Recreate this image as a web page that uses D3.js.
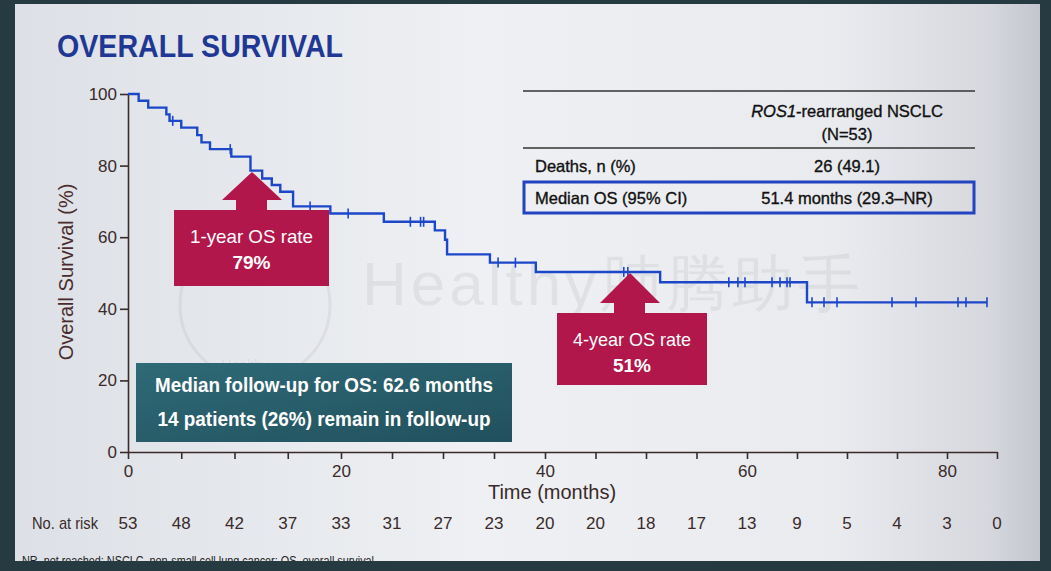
<!DOCTYPE html>
<html><head><meta charset="utf-8">
<script src="https://cdn.jsdelivr.net/npm/d3@7"></script>
<style>html,body{margin:0;padding:0;background:#263a41;} svg{display:block}</style>
</head><body><svg id="c" width="1051" height="571"></svg>
<script>
// ---- data ----
const eventTimes  = [1.0, 1.9, 3.6, 3.9, 5.0, 6.5, 6.9, 7.7, 9.7, 11.5, 12.6, 13.5, 14.3, 15.5, 19.0, 24.2, 29.2, 30.2, 30.4, 34.6, 39.1, 51.4, 66.0];
const survivalPct = [98.1, 96.2, 94.3, 92.5, 90.6, 88.5, 86.5, 84.6, 82.5, 78.6, 76.4, 74.6, 72.7, 68.6, 66.6, 64.3, 61.9, 59.3, 55.2, 52.9, 50.3, 47.4, 41.8];
const censorTimes = [4.2, 9.6, 17.1, 20.7, 26.8, 27.8, 28.1, 35.4, 37.1, 47.8, 48.2, 58.2, 59.1, 59.8, 62.5, 63.3, 64.0, 64.3, 66.5, 67.7, 69.0, 74.5, 76.9, 81.1, 81.9, 84.0];
const lastFollowUp = 84.0;
const atRiskTimes = [0,5,10,15,20,25,30,35,40,45,50,55,60,65,70,75,80,85];
const atRisk      = [53,48,42,37,33,31,27,23,20,20,18,17,13,9,5,4,3,0];
const xLabelTicks = [0,20,40,60,80];
const yTickValues = [0,20,40,60,80,100];
const tableRows = [["Deaths, n (%)", "26 (49.1)"], ["Median OS (95% CI)", "51.4 months (29.3\u2013NR)"]];

const FONT = "'Liberation Sans', Arial, sans-serif";
const NARROW = "'Liberation Sans Narrow', 'Arial Narrow', 'Liberation Sans', Arial, sans-serif";
const ink = "#3a2a2a";

const svg = d3.select("#c");
const defs = svg.append("defs");
const g1 = defs.append("linearGradient").attr("id","bg").attr("x1",0).attr("x2",1).attr("y1",0).attr("y2",0);
[[0,"#dde0e6"],[0.45,"#eef0f3"],[0.8,"#e9ebef"],[0.95,"#d6d8de"],[1,"#c3c6ce"]].forEach(([o,c])=>g1.append("stop").attr("offset",o).attr("stop-color",c));
const g2 = defs.append("linearGradient").attr("id","teal").attr("x1",0).attr("x2",1).attr("y1",0).attr("y2",1);
[[0,"#2f6a77"],[1,"#21505d"]].forEach(([o,c])=>g2.append("stop").attr("offset",o).attr("stop-color",c));

svg.append("rect").attr("x",0).attr("y",0).attr("width",1051).attr("height",571).attr("fill","#263a41");
svg.append("rect").attr("x",15).attr("y",4).attr("width",1025).attr("height",560).attr("fill","url(#bg)");

// watermark
svg.append("circle").attr("cx",255).attr("cy",305).attr("r",75).attr("fill","none").attr("stroke","rgba(0,0,0,0.05)").attr("stroke-width",3);
svg.append("text").attr("x",362).attr("y",305).attr("font-family",FONT).attr("font-size",62)
  .attr("fill","rgba(0,0,0,0.055)").attr("textLength",498).attr("lengthAdjust","spacing").text("Healthy\u80ba\u817e\u52a9\u624b");
svg.append("text").attr("x",245).attr("y",370).attr("text-anchor","middle").attr("font-family",FONT).attr("font-size",14)
  .attr("fill","rgba(0,0,0,0.07)").text("Healthy");

// title
svg.append("text").attr("x",57).attr("y",57).attr("font-family",FONT).attr("font-weight","bold").attr("font-size",32)
  .attr("fill","#1f3894").attr("textLength",286).attr("lengthAdjust","spacingAndGlyphs").text("OVERALL SURVIVAL");

// scales
const x = d3.scaleLinear().domain([0,20,40,60,80,85]).range([128,341,545,747,947,997]);
const y = d3.scaleLinear().domain([0,100]).range([452,94]);

// axes
const gx = svg.append("g").attr("transform","translate(0,452)")
  .call(d3.axisBottom(x).tickValues(atRiskTimes).tickSize(7).tickSizeOuter(0).tickPadding(6)
    .tickFormat(d => xLabelTicks.includes(d) ? d : ""));
const gy = svg.append("g").attr("transform","translate(128,0)")
  .call(d3.axisLeft(y).tickValues(yTickValues).tickSize(8).tickSizeOuter(0).tickPadding(3));
[gx,gy].forEach(g=>{
  g.selectAll("path.domain").attr("stroke",ink).attr("stroke-width",1.6);
  g.selectAll(".tick line").attr("stroke",ink).attr("stroke-width",1.6);
  g.selectAll("text").attr("font-family",FONT).attr("font-size",17).attr("fill",ink);
});

svg.append("text").attr("x",552).attr("y",499).attr("text-anchor","middle").attr("font-family",FONT)
  .attr("font-size",20).attr("fill",ink).text("Time (months)");
svg.append("text").attr("transform","translate(73,272) rotate(-90)").attr("text-anchor","middle").attr("font-family",FONT)
  .attr("font-size",20).attr("fill","#4a2c2c").text("Overall Survival (%)");

// KM curve
const pts = [{t:0,s:100}].concat(eventTimes.map((t,i)=>({t, s:survivalPct[i]})))
  .concat([{t:lastFollowUp, s:survivalPct[survivalPct.length-1]}]);
const line = d3.line().x(d=>x(d.t)).y(d=>y(d.s)).curve(d3.curveStepAfter);
svg.append("path").datum(pts).attr("d",line).attr("fill","none").attr("stroke","#1d47c9").attr("stroke-width",2.4);
const survAt = t => { let s = 100; eventTimes.forEach((e,i)=>{ if (e <= t) s = survivalPct[i]; }); return s; };
svg.append("g").selectAll("line").data(censorTimes).join("line")
  .attr("x1",d=>x(d)).attr("x2",d=>x(d)).attr("y1",d=>y(survAt(d))-5).attr("y2",d=>y(survAt(d))+5)
  .attr("stroke","#1d47c9").attr("stroke-width",1.6);

// table
const tbl = svg.append("g").attr("font-family",FONT).attr("fill","#111").attr("stroke","#111").attr("stroke-width",0.35);
tbl.append("line").attr("x1",523).attr("x2",975).attr("y1",91).attr("y2",91).attr("stroke","#333").attr("stroke-width",1.5);
tbl.append("line").attr("x1",523).attr("x2",975).attr("y1",148).attr("y2",148).attr("stroke","#333").attr("stroke-width",1.5);
const hdr = tbl.append("text").attr("x",847).attr("y",117).attr("text-anchor","middle").attr("font-size",16.5);
hdr.append("tspan").attr("font-style","italic").text("ROS1");
hdr.append("tspan").text("-rearranged NSCLC");
tbl.append("text").attr("x",847).attr("y",140).attr("text-anchor","middle").attr("font-size",16.5).text("(N=53)");
tbl.append("rect").attr("x",524).attr("y",182).attr("width",450).attr("height",31).attr("fill","none")
  .attr("stroke","#2343c0").attr("stroke-width",3);
tableRows.forEach((r,i)=>{
  const yy = 172 + i*31.5;
  tbl.append("text").attr("x",535).attr("y",yy).attr("font-size",16.5).text(r[0]);
  tbl.append("text").attr("x",847).attr("y",yy).attr("text-anchor","middle").attr("font-size",16.5).text(r[1]);
});

// callouts
const red = "#b2174b";
function callout(ax, ay, bx, by, bw, bh, l1, l2, w1) {
  const g = svg.append("g");
  const base = by - 10;
  g.append("polygon").attr("points",[[ax,ay],[ax+30,base],[ax+15,base],[ax+15,by+1],[ax-16,by+1],[ax-16,base],[ax-30,base]].map(p=>p.join(",")).join(" ")).attr("fill",red);
  g.append("rect").attr("x",bx).attr("y",by).attr("width",bw).attr("height",bh).attr("fill",red);
  g.append("text").attr("x",bx+bw/2).attr("y",by+33).attr("text-anchor","middle").attr("font-family",FONT).attr("font-size",19)
    .attr("fill","#fff").attr("textLength",w1).attr("lengthAdjust","spacingAndGlyphs").text(l1);
  g.append("text").attr("x",bx+bw/2).attr("y",by+59).attr("text-anchor","middle").attr("font-family",FONT).attr("font-size",19)
    .attr("font-weight","bold").attr("fill","#fff").text(l2);
}
callout(252, 172, 174, 210, 155, 76, "1-year OS rate", "79%", 123);
callout(630, 273, 557, 313, 150, 72, "4-year OS rate", "51%", 118);

// teal box
svg.append("rect").attr("x",136).attr("y",363).attr("width",376).attr("height",79).attr("fill","url(#teal)");
svg.append("text").attr("x",324).attr("y",392).attr("text-anchor","middle").attr("font-family",FONT).attr("font-weight","bold")
  .attr("font-size",21).attr("fill","#fff").attr("textLength",338).attr("lengthAdjust","spacingAndGlyphs").text("Median follow-up for OS: 62.6 months");
svg.append("text").attr("x",324).attr("y",426).attr("text-anchor","middle").attr("font-family",FONT).attr("font-weight","bold")
  .attr("font-size",21).attr("fill","#fff").attr("textLength",333).attr("lengthAdjust","spacingAndGlyphs").text("14 patients (26%) remain in follow-up");

// at risk
svg.append("text").attr("x",32).attr("y",529).attr("font-family",NARROW).attr("font-size",17).attr("fill",ink)
  .attr("textLength",66).attr("lengthAdjust","spacingAndGlyphs").text("No. at risk");
svg.append("g").selectAll("text").data(atRisk).join("text")
  .attr("x",(d,i)=>x(atRiskTimes[i])).attr("y",529).attr("text-anchor","middle").attr("font-family",NARROW)
  .attr("font-size",17).attr("fill",ink).text(d=>d);

// footnote
svg.append("text").attr("x",22).attr("y",565).attr("font-family",NARROW).attr("font-size",12).attr("fill","#222")
  .attr("textLength",355).attr("lengthAdjust","spacingAndGlyphs").text("NR, not reached; NSCLC, non-small cell lung cancer; OS, overall survival.");
svg.append("rect").attr("x",0).attr("y",561).attr("width",1051).attr("height",10).attr("fill","#263a41");
</script></body></html>
